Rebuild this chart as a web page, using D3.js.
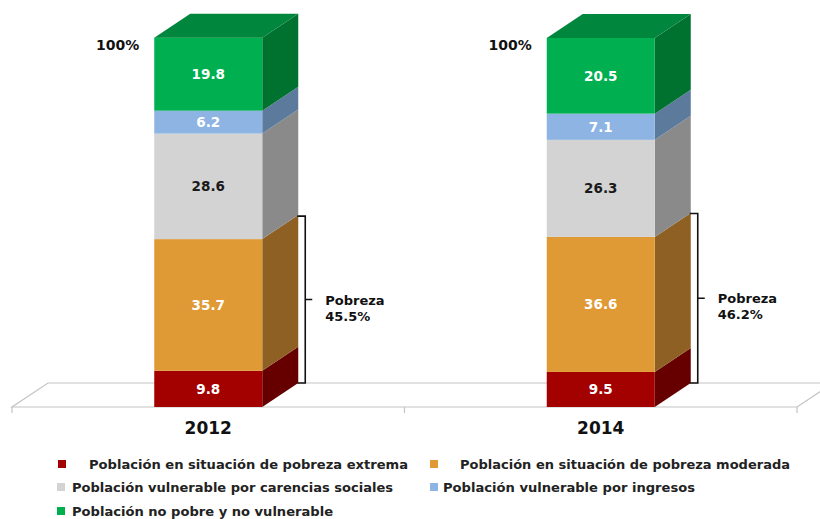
<!DOCTYPE html>
<html><head><meta charset="utf-8">
<script src="https://cdn.jsdelivr.net/npm/d3@7"></script>
<style>
html,body{margin:0;padding:0;background:#fff;}
svg{display:block;}
text{font-family:"DejaVu Sans",Verdana,sans-serif;}
</style></head>
<body>
<svg id="chart" width="820" height="519"></svg>
<script>
// ---- data ----
const years = ["2012", "2014"];
const seriesNames = [
  "Población en situación de pobreza extrema",
  "Población en situación de pobreza moderada",
  "Población vulnerable por carencias sociales",
  "Población vulnerable por ingresos",
  "Población no pobre y no vulnerable"
];
const pobrezaExtrema   = [9.8, 9.5];
const pobrezaModerada  = [35.7, 36.6];
const carencias        = [28.6, 26.3];
const ingresos         = [6.2, 7.1];
const noPobre          = [19.8, 20.5];
const pobrezaTotal     = [45.5, 46.2];
const topLabel = "100%";

// ---- style ----
const frontColors = ["#A30000", "#E09A35", "#D3D3D3", "#8DB4E2", "#00B050"];
const sideColors  = ["#660000", "#8E6023", "#8A8A8A", "#5B7A9C", "#00722F"];
const topColor = "#00873D";
const labelColors = ["#fff", "#fff", "#1a1a1a", "#fff", "#fff"];

const svg = d3.select("#chart");
const keys = ["k0","k1","k2","k3","k4"];
const table = years.map((y, i) => ({
  year: y, k0: pobrezaExtrema[i], k1: pobrezaModerada[i], k2: carencias[i], k3: ingresos[i], k4: noPobre[i]
}));
const stacked = d3.stack().keys(keys)(table);

const x = d3.scaleBand().domain(years).range([12, 797]).padding(0);
const y = d3.scaleLinear().domain([0, 100]).range([407, 38]);
const barW = 108, dx = 36, dy = 24;
const bx = d => x(d) + x.bandwidth() / 2 - barW / 2;

// floor
const floor = svg.append("g").attr("stroke", "#C4C4C4").attr("stroke-width", 1.2).attr("fill", "none");
const x0 = x.range()[0], x1 = x.range()[1], fy = y(0);
floor.append("path").attr("d", `M${x0},${fy}L${x1},${fy}L${x1 + dx},${fy - dy}L${x0 + dx},${fy - dy}Z`);
[x0, x0 + x.bandwidth(), x1].forEach(t => {
  floor.append("line").attr("x1", t).attr("x2", t).attr("y1", fy).attr("y2", fy + 6);
});

// bars
const bars = svg.append("g");
stacked.forEach((layer, si) => {
  layer.forEach((d, i) => {
    const yr = years[i];
    const L = bx(yr), R = L + barW;
    const yt = y(d[1]), yb = y(d[0]);
    bars.append("path")
      .attr("d", `M${R},${yt}L${R + dx},${yt - dy}L${R + dx},${yb - dy}L${R},${yb}Z`)
      .attr("fill", sideColors[si]);
    bars.append("rect").attr("x", L).attr("y", yt).attr("width", barW).attr("height", yb - yt)
      .attr("fill", frontColors[si]);
    if (si === keys.length - 1) {
      bars.append("path")
        .attr("d", `M${L},${yt}L${L + dx},${yt - dy}L${R + dx},${yt - dy}L${R},${yt}Z`)
        .attr("fill", topColor);
    }
    bars.append("text")
      .attr("x", L + barW / 2).attr("y", (yt + yb) / 2 + 5)
      .attr("text-anchor", "middle").attr("font-size", 13.5).attr("font-weight", "bold")
      .attr("fill", labelColors[si])
      .text(d3.format(".1f")(d[1] - d[0]));
  });
});

// 100% labels
years.forEach(yr => {
  svg.append("text").attr("x", bx(yr) - 15).attr("y", y(100) + 12)
    .attr("text-anchor", "end").attr("font-size", 14).attr("font-weight", "bold")
    .attr("fill", "#111").text(topLabel);
});

// brackets
years.forEach((yr, i) => {
  const bxr = bx(yr) + barW + dx + 7;
  const top = y(pobrezaTotal[i]) - dy + 1, bot = y(0) - dy;
  const mid = (top + bot) / 2;
  svg.append("path")
    .attr("d", `M${bxr - 8},${top}L${bxr},${top}L${bxr},${bot}L${bxr - 8},${bot}M${bxr},${mid}L${bxr + 7},${mid}`)
    .attr("fill", "none").attr("stroke", "#111").attr("stroke-width", 1.6);
  const t = svg.append("text").attr("font-size", 13).attr("font-weight", "bold").attr("fill", "#111");
  t.append("tspan").attr("x", bxr + 20).attr("y", mid + 5).text("Pobreza");
  t.append("tspan").attr("x", bxr + 20).attr("y", mid + 21).text(pobrezaTotal[i].toFixed(1) + "%");
});

// x axis labels
const xAxis = d3.axisBottom(x).tickSize(0).tickPadding(0);
const ax = svg.append("g").attr("transform", `translate(0,${fy + 15})`).call(xAxis);
ax.select(".domain").remove();
ax.selectAll("text").attr("font-size", 17).attr("font-weight", "bold").attr("fill", "#111")
  .attr("font-family", "DejaVu Sans, Verdana, sans-serif").attr("dy", "0.71em");

// legend
const legendPos = [
  {sx: 58, tx: 89, y: 465, w: 319},
  {sx: 430, tx: 460, y: 465, w: 330},
  {sx: 57, tx: 72, y: 488, w: 321},
  {sx: 430, tx: 443, y: 488, w: 252},
  {sx: 57, tx: 72, y: 512, w: 261}
];
const lg = svg.append("g");
seriesNames.forEach((n, i) => {
  const p = legendPos[i];
  lg.append("rect").attr("x", p.sx).attr("y", p.y - 5).attr("width", 8).attr("height", 8).attr("fill", frontColors[i]);
  lg.append("text").attr("x", p.tx).attr("y", p.y + 4).attr("font-size", 12.5).attr("font-weight", "bold")
    .attr("fill", "#222").attr("textLength", p.w).attr("lengthAdjust", "spacingAndGlyphs").text(n);
});
</script>
</body></html>
